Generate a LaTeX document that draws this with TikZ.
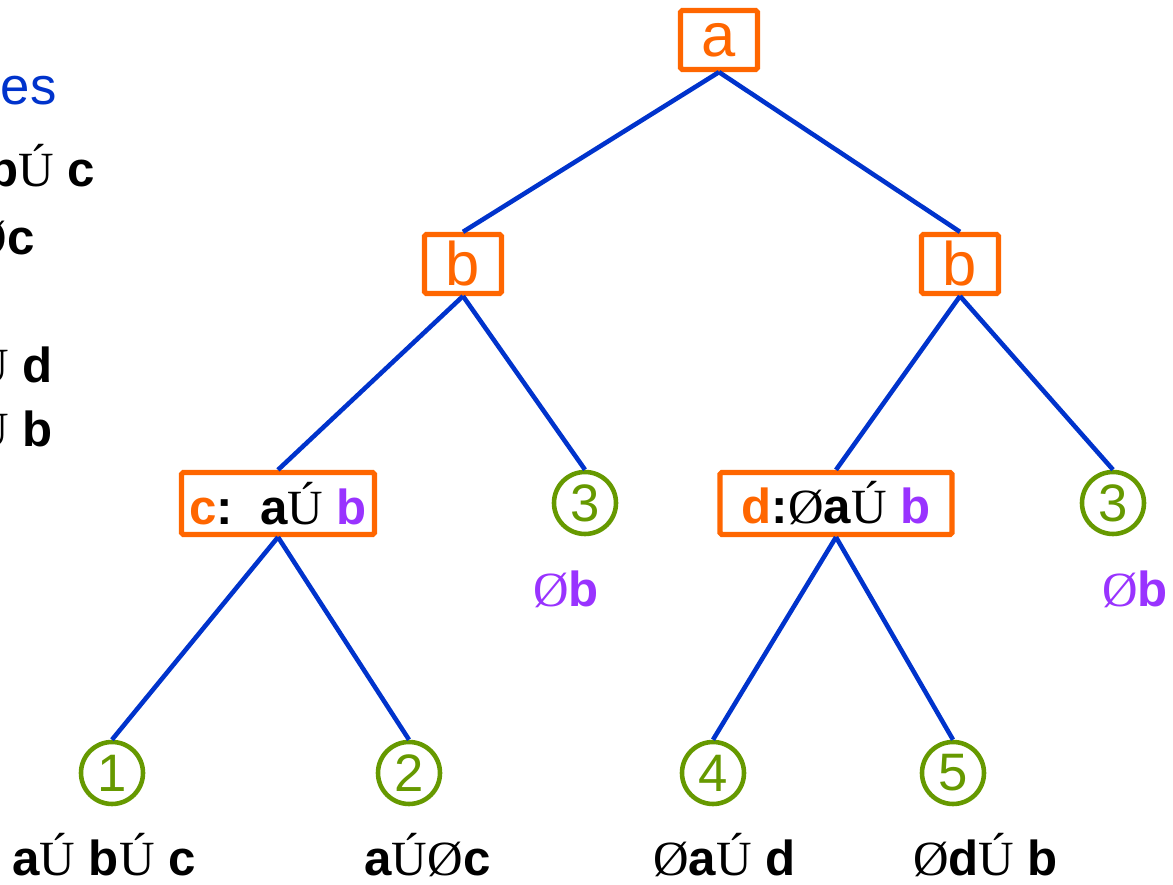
\documentclass[tikz,border=0pt]{standalone}
\usepackage{fontspec}
\setmainfont{Liberation Sans}
\newfontfamily\serifsym{Liberation Serif}
\usepackage{tikz}
\usetikzlibrary{positioning}
\definecolor{treeorange}{RGB}{255,102,0}
\definecolor{treeblue}{RGB}{0,51,204}
\definecolor{treegreen}{RGB}{102,153,0}
\definecolor{treepurple}{RGB}{153,51,255}
% symbol glyphs set in the serif face
\newcommand{\symor}{{\serifsym\mdseries Ú}}
\newcommand{\symnot}{{\serifsym\mdseries Ø}}
\newcommand{\bigtxt}{\fontsize{35}{40}\selectfont}
\newcommand{\lbltxt}{\fontsize{28}{32}\selectfont}

\tikzset{
  vbox/.style={draw=treeorange,line width=3pt,rounded corners=1pt,
               minimum width=1.54cm,minimum height=1.18cm,inner sep=0pt,
               text=treeorange,font=\bigtxt},
  testbox/.style={draw=treeorange,line width=3pt,rounded corners=1pt,
               minimum height=1.24cm,inner sep=0pt,font=\lbltxt\bfseries},
  leaf/.style={circle,draw=treegreen,line width=2.6pt,minimum size=1.24cm,
               inner sep=0pt,text=treegreen,font=\fontsize{30}{34}\selectfont},
  edge/.style={draw=treeblue,line width=2.6pt},
  lbl/.style={anchor=base,inner sep=0pt,font=\lbltxt\bfseries},
  rowtxt/.style={anchor=base east,inner sep=0pt,font=\lbltxt\bfseries}
}

\begin{document}
\begin{tikzpicture}
  \useasboundingbox (0,0) rectangle (23.46,17.7);

  % clause list on the left
  \node[anchor=base east,inner sep=0pt,text=treeblue,
        font=\fontsize{30}{34}\selectfont] (head) at (1.14,15.60) {es};
  \node[rowtxt] (row1) at (1.90,13.96) {b\symor{} c};
  \node[rowtxt] (row2) at (0.70,12.60) {\symnot c};
  \node[rowtxt] (row3) at (1.06,10.04) {\symor{} d};
  \node[rowtxt] (row4) at (1.06,8.76) {\symor{} b};

  % decision nodes
  \node[vbox] (root) at (14.38,16.90) {a};
  \node[vbox] (bl) at (9.26,12.42) {b};
  \node[vbox] (br) at (19.20,12.42) {b};
  \node[testbox,minimum width=3.86cm] (cnode) at (5.56,7.63)
    {\textcolor{treeorange}{c}:~~a\symor{} \textcolor{treepurple}{b}};
  \node[testbox,minimum width=4.64cm] (dnode) at (16.72,7.63)
    {\textcolor{treeorange}{d}:\symnot a\symor{} \textcolor{treepurple}{b}};

  % leaves
  \node[leaf] (l3a) at (11.70,7.64) {3};
  \node[leaf] (l3b) at (22.26,7.64) {3};
  \node[leaf] (l1) at (2.24,2.24) {1};
  \node[leaf] (l2) at (8.18,2.24) {2};
  \node[leaf] (l4) at (14.26,2.24) {4};
  \node[leaf] (l5) at (19.06,2.24) {5};

  % leaf clauses
  \node[lbl,text=treepurple] (n3a) at (11.32,5.56) {\symnot b};
  \node[lbl,text=treepurple] (n3b) at (22.70,5.56) {\symnot b};
  \node[lbl] (n1) at (2.08,0.18) {a\symor{} b\symor{} c};
  \node[lbl] (n2) at (8.55,0.18) {a\symor\symnot c};
  \node[lbl] (n4) at (14.49,0.18) {\symnot a\symor{} d};
  \node[lbl] (n5) at (19.71,0.18) {\symnot d\symor{} b};

  % branches
  \draw[edge] (root.south) -- (bl.north);
  \draw[edge] (root.south) -- (br.north);
  \draw[edge] (bl.south) -- (cnode.north);
  \draw[edge] (bl.south) -- (l3a.north);
  \draw[edge] (br.south) -- (dnode.north);
  \draw[edge] (br.south) -- (l3b.north);
  \draw[edge] (cnode.south) -- (l1.north);
  \draw[edge] (cnode.south) -- (l2.north);
  \draw[edge] (dnode.south) -- (l4.north);
  \draw[edge] (dnode.south) -- (l5.north);
\end{tikzpicture}
\end{document}
